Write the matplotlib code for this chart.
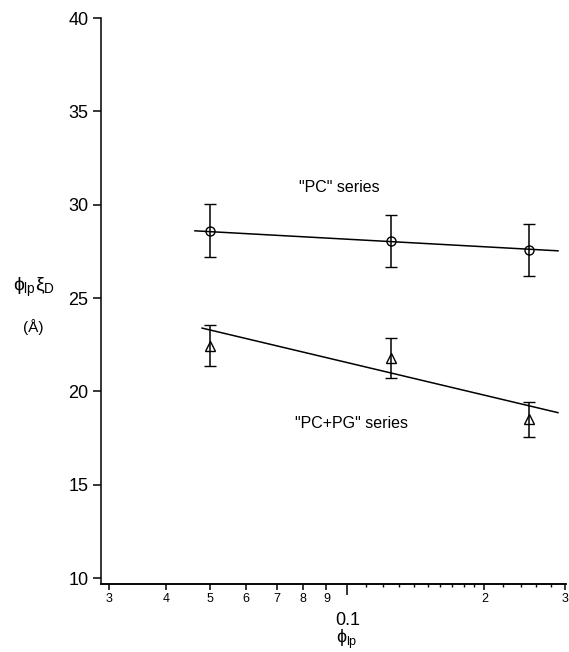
import numpy as np
import matplotlib
matplotlib.use("Agg")
import matplotlib.pyplot as plt
from matplotlib.ticker import FixedLocator, NullFormatter

plt.rcParams['font.family'] = ['Liberation Sans', 'DejaVu Sans']
plt.rcParams['mathtext.fontset'] = 'custom'
plt.rcParams['mathtext.rm'] = 'Liberation Sans'
plt.rcParams['mathtext.it'] = 'Liberation Sans'

# ---- data ----
phi = [0.05, 0.125, 0.25]
pc_y = [28.6, 28.05, 27.57]
pc_err = [1.42, 1.4, 1.4]
pcpg_y = [22.45, 21.8, 18.5]
pcpg_err = [1.1, 1.08, 0.92]

# fitted lines y = a + b*(log10(x)+1)
pc_fit = (28.15, -1.345)
pcpg_fit = (21.54, -5.8)
pc_fit_range = (0.0463, 0.29)
pcpg_fit_range = (0.048, 0.29)

xlabeled_ticks = [0.03, 0.04, 0.05, 0.06, 0.07, 0.08, 0.09, 0.2, 0.3]
xlabeled_text = ['3', '4', '5', '6', '7', '8', '9', '2', '3']
xsmall_ticks = [0.11, 0.12, 0.13, 0.14, 0.15, 0.16, 0.17, 0.18, 0.19,
                0.22, 0.24, 0.26, 0.28]
yticks = [10, 15, 20, 25, 30, 35, 40]

W, H = 569, 652
fig = plt.figure(figsize=(W / 100, H / 100), dpi=100)
ax = fig.add_axes([101 / W, 1 - 584 / H, (566 - 101) / W, (584 - 18) / H])

ax.set_xscale('log')
ax.set_xlim(0.0288, 0.302)
ax.set_ylim(9.68, 40)

lw = 1.1
# fits
for (a, b), (x0, x1) in [(pc_fit, pc_fit_range), (pcpg_fit, pcpg_fit_range)]:
    xs = np.array([x0, x1])
    ax.plot(xs, a + b * (np.log10(xs) + 1), color='black', lw=lw)

ax.errorbar(phi, pc_y, yerr=pc_err, fmt='o', mfc='none', mec='black',
            ms=6.5, mew=1.0, ecolor='black', elinewidth=lw, capsize=4,
            capthick=lw)
ax.errorbar(phi, pcpg_y, yerr=pcpg_err, fmt='^', mfc='none', mec='black',
            ms=6.5, mew=1.0, ecolor='black', elinewidth=lw, capsize=4,
            capthick=lw)

ax.text(0.096, 30.9, '"PC" series', ha='center', va='center', fontsize=11.5)
ax.text(0.102, 18.3, '"PC+PG" series', ha='center', va='center', fontsize=11.5)

for s in ['top', 'right']:
    ax.spines[s].set_visible(False)
for s in ['left', 'bottom']:
    ax.spines[s].set_linewidth(1.1)

ax.set_yticks(yticks)
ax.set_yticklabels([str(v) for v in yticks])
ax.tick_params(axis='y', direction='out', length=6, width=1.1, labelsize=13, pad=3)

ax.xaxis.set_major_locator(FixedLocator([0.1]))
ax.set_xticklabels(['0.1'])
ax.set_xticks(xlabeled_ticks, labels=xlabeled_text, minor=True)
ax.tick_params(axis='x', which='major', direction='out', length=8, width=1.1,
               labelsize=13, pad=12)
ax.tick_params(axis='x', which='minor', direction='out', length=4.5, width=1.1,
               labelsize=9, pad=2)

sec = ax.secondary_xaxis('bottom')
sec.set_xscale('log')
sec.xaxis.set_major_locator(FixedLocator(xsmall_ticks))
sec.xaxis.set_major_formatter(NullFormatter())
sec.xaxis.set_minor_locator(FixedLocator([]))
sec.tick_params(axis='x', which='both', direction='out', length=2.5, width=1.0)
sec.spines['bottom'].set_linewidth(1.1)

fig.text(347 / W, 1 - 639 / H, r'$\phi_{\mathrm{lp}}$', ha='center', va='center', fontsize=13)
fig.text(13 / W, 1 - 287 / H, r'$\phi_{\mathrm{lp}}\xi_{\mathrm{D}}$', ha='left', va='center', fontsize=14)
fig.text(33 / W, 1 - 327 / H, '(Å)', ha='center', va='center', fontsize=11)

fig.savefig('out.png', dpi=100)
